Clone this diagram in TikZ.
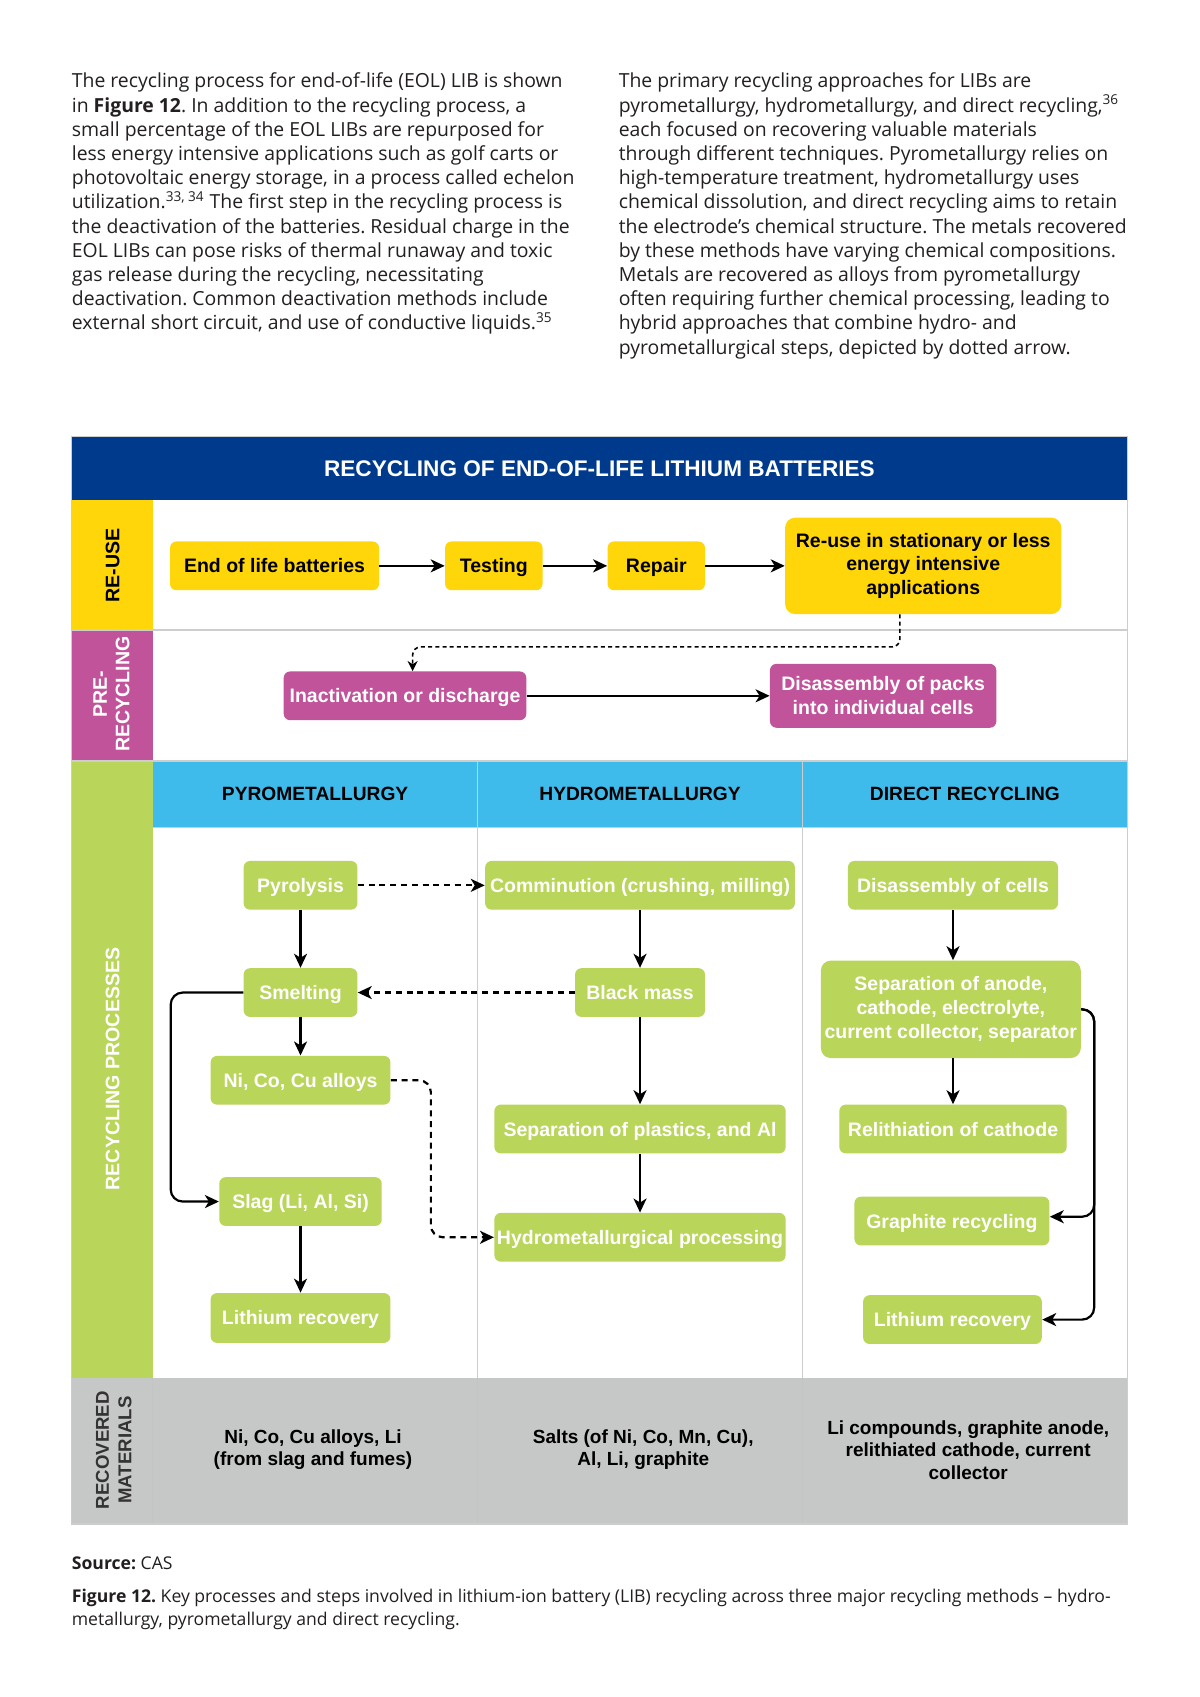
\documentclass[tikz,border=0pt]{standalone}
\usepackage{fontspec}
\setmainfont{Open Sans}
\newfontfamily\arialfont{Liberation Sans}
\usetikzlibrary{arrows.meta}
\newcommand\ppx{0.5415pt}
\definecolor{hdrblue}{RGB}{0,58,140}
\definecolor{reuseyel}{RGB}{255,214,10}
\definecolor{premag}{RGB}{193,83,154}
\definecolor{recgreen}{RGB}{185,213,90}
\definecolor{colblue}{RGB}{62,187,235}
\definecolor{matgrey}{RGB}{198,199,199}
\definecolor{linegrey}{RGB}{205,205,205}
\definecolor{bodytext}{RGB}{35,31,32}
\frenchspacing
\tikzset{
  box/.style={rounded corners=3.2pt, inner sep=0pt, align=center,
    font=\arialfont\bfseries\fontsize{9.75}{11.9}\selectfont},
  one/.style={text height=8.5pt, text depth=1.5pt},
  ybox/.style={box, fill=reuseyel, text=black},
  mbox/.style={box, fill=premag, text=white},
  gbox/.style={box, fill=recgreen, text=white},
  arr/.style={-{Stealth[length=7pt,width=6.5pt,inset=2pt]}, line width=1.1pt, black},
  darr/.style={arr, dash pattern=on 3pt off 2.4pt},
  dotarr/.style={-{Stealth[length=5pt,width=5pt,inset=1.6pt]}, line width=0.8pt, black, dash pattern=on 2pt off 1.6pt},
  bandlabel/.style={rotate=90, align=center, inner sep=0pt,
    font=\arialfont\bfseries\fontsize{9.8}{11.2}\selectfont},
  colhead/.style={inner sep=0pt, font=\arialfont\bfseries\fontsize{9.6}{11}\selectfont, text=black},
  mattext/.style={inner sep=0pt, align=center, text=black,
    font=\arialfont\bfseries\fontsize{9.5}{11.4}\selectfont},
  para/.style={anchor=north west, inner sep=0pt, align=left, text=bodytext,
    font=\fontsize{9.7}{12.1}\selectfont},
}
\begin{document}
\begin{tikzpicture}[x=0.5415pt,y=-0.5415pt]
\fill[white] (0,0) rectangle (1108,1567);
\useasboundingbox (0,0) rectangle (1108,1567);

% ---------- top text ----------
\node[para] (ptxtL) at (66,67) {The recycling process for end-of-life (EOL) LIB is shown\\
in \textbf{Figure 12}. In addition to the recycling process, a\\
small percentage of the EOL LIBs are repurposed for\\
less energy intensive applications such as golf carts or\\
photovoltaic energy storage, in a process called echelon\\
utilization.\textsuperscript{33, 34} The first step in the recycling process is\\
the deactivation of the batteries. Residual charge in the\\
EOL LIBs can pose risks of thermal runaway and toxic\\
gas release during the recycling, necessitating\\
deactivation. Common deactivation methods include\\
external short circuit, and use of conductive liquids.\textsuperscript{35}};
\node[para] (ptxtR) at (571,67) {The primary recycling approaches for LIBs are\\
pyrometallurgy, hydrometallurgy, and direct recycling,\textsuperscript{36}\\
each focused on recovering valuable materials\\
through different techniques. Pyrometallurgy relies on\\
high-temperature treatment, hydrometallurgy uses\\
chemical dissolution, and direct recycling aims to retain\\
the electrode’s chemical structure. The metals recovered\\
by these methods have varying chemical compositions.\\
Metals are recovered as alloys from pyrometallurgy\\
often requiring further chemical processing, leading to\\
hybrid approaches that combine hydro- and\\
pyrometallurgical steps, depicted by dotted arrow.};

% ---------- table backgrounds ----------
\fill[hdrblue] (66,403) rectangle (1041,462);
\fill[reuseyel] (66,462) rectangle (141,582);
\fill[premag] (66,582) rectangle (141,703);
\fill[recgreen] (66,703) rectangle (141,1272);
\fill[colblue] (141,704) rectangle (1041,764);
\fill[matgrey] (66,1272) rectangle (1041,1407);
\draw[linegrey, line width=0.9pt] (66,582) -- (1041,582);
\draw[linegrey, line width=0.9pt] (66,703) -- (1041,703);
\draw[linegrey, line width=0.5pt] (141,764) -- (1041,764);
\draw[linegrey, line width=0.6pt] (441,704) -- (441,1272);
\draw[linegrey, line width=0.6pt] (741,704) -- (741,1272);
\draw[black!4!matgrey!92!white, line width=0.6pt] (141,1272) -- (141,1407) (441,1272) -- (441,1407) (741,1272) -- (741,1407);
\draw[linegrey, line width=0.8pt] (66,403) rectangle (1041,1407);

% ---------- headings ----------
\node[inner sep=0pt, text=white, font=\arialfont\bfseries\fontsize{11.3}{13}\selectfont] (title) at (553.5,432.5) {RECYCLING OF END-OF-LIFE LITHIUM BATTERIES};
\node[bandlabel, text=black] (lreuse) at (104,522) {RE-USE};
\node[bandlabel, text=white] (lpre) at (103,641) {PRE-\\RECYCLING};
\node[bandlabel, text=white] (lrec) at (104,987) {RECYCLING PROCESSES};
\node[bandlabel, text=black!80, font=\arialfont\bfseries\fontsize{9.3}{11.2}\selectfont] (lmat) at (105,1339) {RECOVERED\\MATERIALS};
\node[colhead] (hpyro) at (291,733.5) {PYROMETALLURGY};
\node[colhead] (hhydro) at (591,733.5) {HYDROMETALLURGY};
\node[colhead] (hdirect) at (891,733.5) {DIRECT RECYCLING};

% ---------- re-use row ----------
\node[ybox, one, minimum width=193*\ppx, minimum height=45*\ppx] (eol) at (253.5,522.5) {End of life batteries};
\node[ybox, one, minimum width=90*\ppx, minimum height=45*\ppx] (test) at (456,522.5) {Testing};
\node[ybox, one, minimum width=90*\ppx, minimum height=45*\ppx] (repair) at (606,522.5) {Repair};
\node[ybox, minimum width=255*\ppx, minimum height=89*\ppx, rounded corners=5pt] (reuse) at (852.5,522.5) {Re-use in stationary or less\\energy intensive\\applications};
\draw[arr] (eol) -- (test);
\draw[arr] (test) -- (repair);
\draw[arr] (repair) -- (reuse);

% ---------- pre-recycling row ----------
\node[mbox, one, minimum width=224*\ppx, minimum height=45*\ppx] (inact) at (374,642.5) {Inactivation or discharge};
\node[mbox, minimum width=209*\ppx, minimum height=59*\ppx] (dispack) at (815.5,642.5) {Disassembly of packs\\into individual cells};
\draw[arr] (inact) -- (dispack);
\draw[dotarr, rounded corners=4pt] ([xshift=-21.5*\ppx]reuse.south) -- ++(0,30) -| ([xshift=7*\ppx]inact.north);

% ---------- pyrometallurgy ----------
\node[gbox, one, minimum width=105*\ppx, minimum height=45*\ppx] (pyro) at (277.5,817.5) {Pyrolysis};
\node[gbox, one, minimum width=105*\ppx, minimum height=45*\ppx] (smelt) at (277.5,916.5) {Smelting};
\node[gbox, one, minimum width=166*\ppx, minimum height=45*\ppx] (alloy) at (277.5,997.5) {Ni, Co, Cu alloys};
\node[gbox, one, minimum width=150*\ppx, minimum height=45*\ppx] (slag) at (277.5,1109.5) {Slag (Li, Al, Si)};
\node[gbox, one, minimum width=166*\ppx, minimum height=46*\ppx] (lirecA) at (277.5,1217) {Lithium recovery};
\draw[arr] (pyro) -- (smelt);
\draw[arr] (smelt) -- (alloy);
\draw[arr] (slag) -- (lirecA);
\draw[arr, rounded corners=6pt] (smelt.west) -- ++(-67,0) |- (slag.west);

% ---------- hydrometallurgy ----------
\node[gbox, one, minimum width=286*\ppx, minimum height=45*\ppx] (comm) at (591,817.5) {Comminution (crushing, milling)};
\node[gbox, one, minimum width=120*\ppx, minimum height=45*\ppx] (black) at (591,916.5) {Black mass};
\node[gbox, one, minimum width=269*\ppx, minimum height=45*\ppx] (sepplast) at (591,1042.5) {Separation of plastics, and Al};
\node[gbox, one, minimum width=269*\ppx, minimum height=45*\ppx] (hproc) at (591,1142.5) {Hydrometallurgical processing};
\draw[arr] (comm) -- (black);
\draw[arr] (black) -- (sepplast);
\draw[arr] (sepplast) -- (hproc);
\draw[darr] (pyro) -- (comm);
\draw[darr] (black) -- (smelt);
\draw[darr, rounded corners=6pt] (alloy.east) -- ++(37,0) |- (hproc.west);

% ---------- direct recycling ----------
\node[gbox, one, minimum width=194*\ppx, minimum height=45*\ppx] (discell) at (880,817.5) {Disassembly of cells};
\node[gbox, minimum width=240*\ppx, minimum height=90*\ppx, rounded corners=5pt] (sepanode) at (878,932) {Separation of anode,\\cathode, electrolyte,\\current collector, separator};
\node[gbox, one, minimum width=210*\ppx, minimum height=45*\ppx] (relith) at (880,1042.5) {Relithiation of cathode};
\node[gbox, one, minimum width=180*\ppx, minimum height=45*\ppx] (graph) at (879,1127.5) {Graphite recycling};
\node[gbox, one, minimum width=165*\ppx, minimum height=45*\ppx] (lirecB) at (879.5,1218.5) {Lithium recovery};
\draw[arr] (discell) -- (discell |- sepanode.north);
\draw[arr] (relith |- sepanode.south) -- (relith);
\draw[arr, rounded corners=6pt] (sepanode.east) -- ++(12,0) |- (lirecB.east);
\draw[arr, rounded corners=6pt] (sepanode.east) -- ++(12,0) |- ([yshift=4*\ppx]graph.east);

% ---------- recovered materials ----------
\node[mattext] (mpyro) at (289,1338.5) {Ni, Co, Cu alloys, Li\\(from slag and fumes)};
\node[mattext] (mhydro) at (594,1338.5) {Salts (of Ni, Co, Mn, Cu),\\Al, Li, graphite};
\node[mattext] (mdirect) at (894,1339) {Li compounds, graphite anode,\\relithiated cathode, current\\collector};

% ---------- caption ----------
\node[para, font=\fontsize{8.8}{11.4}\selectfont] (source) at (66,1437) {\textbf{Source:} CAS};
\node[para, font=\fontsize{8.8}{11.4}\selectfont] (caption) at (66,1467) {\textbf{Figure 12.} Key processes and steps involved in lithium-ion battery (LIB) recycling across three major recycling methods – hydro-\\metallurgy, pyrometallurgy and direct recycling.};
\end{tikzpicture}
\end{document}
